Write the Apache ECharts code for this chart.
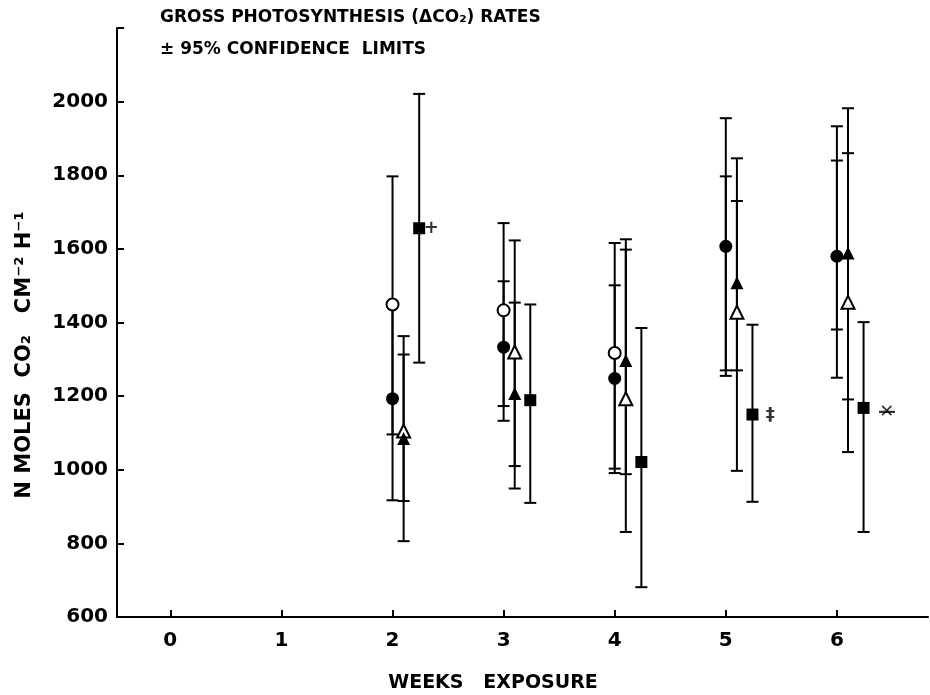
<!DOCTYPE html>
<html lang="en">
<head>
    <meta charset="UTF-8">
    <title>Gross photosynthesis</title>
    <script src="https://cdn.jsdelivr.net/npm/echarts@6/dist/echarts.min.js"></script>
</head>
<body style="margin:0;background:#fff;">
<div id="main" style="width: 930px;height:695px;"></div>

<script type="text/javascript">
    // weeks of exposure and the x offsets each symbol uses
    var weeks = [2, 3, 4, 5, 6];
    var offCircle = 0, offTriangle = 0.1, offSquare = 0.24;

    // means and 95% limits (null = no symbol drawn)
    var openCircle = [1449, 1433, 1317, null, null];
    var openCircleLo = [1096, 1173, 1003, 1270, 1381];
    var openCircleHi = [1797, 1670, 1616, 1797, 1840];

    var filledCircle = [1193, 1333, 1248, 1607, 1580];
    var filledCircleLo = [917, 1133, 991, 1255, 1250];
    var filledCircleHi = [1449, 1512, 1501, 1955, 1933];

    var openTriangle = [1105, 1320, 1193, 1428, 1455];
    var openTriangleLo = [915, 1010, 831, 997, 1048];
    var openTriangleHi = [1313, 1623, 1598, 1846, 1860];

    var filledTriangle = [1085, 1207, 1297, 1508, 1589];
    var filledTriangleLo = [806, 949, 988, 1270, 1191];
    var filledTriangleHi = [1363, 1454, 1626, 1730, 1982];

    var square = [1656, 1189, 1021, 1150, 1168];
    var squareLo = [1291, 910, 681, 913, 831];
    var squareHi = [2021, 1449, 1385, 1394, 1401];

    // marks written next to the squares
    var noteX = [2.35, 5.40, 6.45, 6.45];
    var noteY = [1655, 1148, 1156, 1156];
    var noteText = ['+', '‡', '✕', '—'];

    var xTicks = [0, 1, 2, 3, 4, 5, 6];

    var font = 'DejaVu Sans';

    function pts(vals, off) {
        var out = [];
        for (var i = 0; i < weeks.length; i++) {
            if (vals[i] != null) out.push([weeks[i] + off, vals[i]]);
        }
        return out;
    }
    function bars(lo, hi, off, out) {
        for (var i = 0; i < weeks.length; i++) {
            if (lo[i] != null) out.push([weeks[i] + off, lo[i], hi[i]]);
        }
    }
    var errData = [];
    bars(openCircleLo, openCircleHi, offCircle, errData);
    bars(filledCircleLo, filledCircleHi, offCircle, errData);
    bars(openTriangleLo, openTriangleHi, offTriangle, errData);
    bars(filledTriangleLo, filledTriangleHi, offTriangle, errData);
    bars(squareLo, squareHi, offSquare, errData);

    var notes = [];
    for (var i = 0; i < noteX.length; i++) notes.push([noteX[i], noteY[i], noteText[i]]);

    var openStyle = {color: '#fff', borderColor: '#000', borderWidth: 2, opacity: 1};
    var fillStyle = {color: '#000', opacity: 1};

    var myChart = echarts.init(document.getElementById('main'));

    var option = {
        animation: false,
        backgroundColor: '#fff',
        grid: {left: 117, right: 2, top: 28, bottom: 78, outerBoundsMode: 'none'},
        xAxis: {
            type: 'value', min: -0.48, max: 6.82,
            axisLine: {onZero: false, lineStyle: {color: '#000', width: 2}},
            axisTick: {inside: true, length: 7, customValues: xTicks, lineStyle: {color: '#000', width: 2}},
            axisLabel: {customValues: xTicks, color: '#000', fontFamily: font, fontWeight: 'bold', fontSize: 20, margin: 14},
            splitLine: {show: false}
        },
        yAxis: {
            type: 'value', min: 600, max: 2200, interval: 200,
            axisLine: {onZero: false, lineStyle: {color: '#000', width: 2}},
            axisTick: {inside: true, length: 7, lineStyle: {color: '#000', width: 2}},
            axisLabel: {
                color: '#000', fontFamily: font, fontWeight: 'bold', fontSize: 20, margin: 9,
                formatter: function (v) { return v === 2200 ? '' : v; }
            },
            splitLine: {show: false}
        },
        graphic: [
            {type: 'text', left: 160, top: 9, style: {text: 'GROSS PHOTOSYNTHESIS (ΔCO₂) RATES', font: 'bold 17px "DejaVu Sans"', fill: '#000'}},
            {type: 'text', left: 160, top: 41, style: {text: '± 95% CONFIDENCE  LIMITS', font: 'bold 17px "DejaVu Sans"', fill: '#000'}},
            {type: 'text', x: 493, y: 683, style: {text: 'WEEKS   EXPOSURE', font: 'bold 19px "DejaVu Sans"', fill: '#000', align: 'center', verticalAlign: 'middle'}},
            {type: 'text', x: 25, y: 355, rotation: Math.PI / 2, style: {text: 'N MOLES  CO₂   CM⁻² H⁻¹', font: 'bold 21px "DejaVu Sans"', fill: '#000', align: 'center', verticalAlign: 'middle'}}
        ],
        series: [
            {
                type: 'custom', z: 2, data: errData,
                renderItem: function (params, api) {
                    var x = api.value(0);
                    var a = api.coord([x, api.value(1)]);
                    var b = api.coord([x, api.value(2)]);
                    var w = 6;
                    var st = {stroke: '#000', lineWidth: 2};
                    return {
                        type: 'group', children: [
                            {type: 'line', shape: {x1: a[0], y1: a[1], x2: b[0], y2: b[1]}, style: st},
                            {type: 'line', shape: {x1: a[0] - w, y1: a[1], x2: a[0] + w, y2: a[1]}, style: st},
                            {type: 'line', shape: {x1: b[0] - w, y1: b[1], x2: b[0] + w, y2: b[1]}, style: st}
                        ]
                    };
                }
            },
            {type: 'scatter', z: 5, symbol: 'circle', symbolSize: 12, data: pts(openCircle, offCircle), itemStyle: openStyle},
            {type: 'scatter', z: 5, symbol: 'circle', symbolSize: 13, data: pts(filledCircle, offCircle), itemStyle: fillStyle},
            {type: 'scatter', z: 5, symbol: 'triangle', symbolSize: 13, data: pts(openTriangle, offTriangle), itemStyle: openStyle},
            {type: 'scatter', z: 5, symbol: 'triangle', symbolSize: 13, data: pts(filledTriangle, offTriangle), itemStyle: fillStyle},
            {type: 'scatter', z: 5, symbol: 'rect', symbolSize: 12, data: pts(square, offSquare), itemStyle: fillStyle},
            {
                type: 'scatter', z: 6, symbolSize: 0, data: notes,
                label: {
                    show: true, position: 'inside', color: '#000', fontFamily: font, fontWeight: 'bold', fontSize: 18,
                    formatter: function (p) { return p.value[2]; }
                }
            }
        ]
    };
    myChart.setOption(option);
</script>
</body>
</html>
